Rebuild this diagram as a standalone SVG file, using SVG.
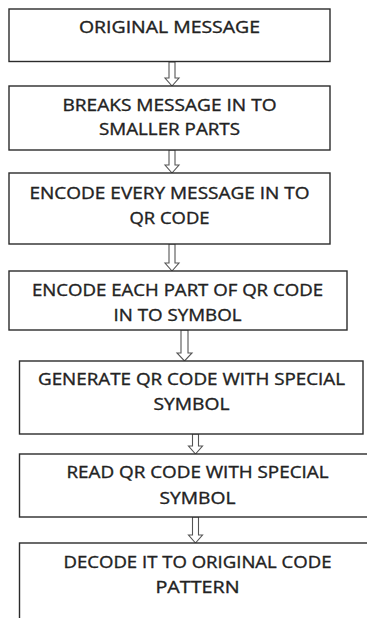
<svg xmlns="http://www.w3.org/2000/svg" width="367" height="618" viewBox="0 0 367 618">
<defs>
<style>
.box{fill:#fff;stroke:#2b2b2b;stroke-width:1.4}
.t{font-family:"Open Sans","Liberation Sans",Arial,sans-serif;font-size:16.5px;fill:#222;stroke:#222;stroke-width:0.35;text-anchor:middle}
.arr{fill:#fff;stroke:#555;stroke-width:1.1;stroke-linejoin:miter}
</style>
</defs>
<rect width="367" height="618" fill="#fff"/>
<g id="connectors">
<path class="arr" d="M169,62 V78 H165 L172,86 L179,78 H175 V62 Z"/>
<path class="arr" d="M169,150 V165 H165 L172,173 L179,165 H175 V150 Z"/>
<path class="arr" d="M169,244 V263 H165 L172,271 L179,263 H175 V244 Z"/>
<path class="arr" d="M181,330 V353 H177 L184.5,361 L192,353 H188 V330 Z"/>
<path class="arr" d="M192.5,434 V446 H188.5 L195.5,454 L202.5,446 H198.5 V434 Z"/>
<path class="arr" d="M192.5,517 V535 H188.5 L195.5,543 L202.5,535 H198.5 V517 Z"/>
</g>
<g id="n1">
<rect class="box" x="9" y="9" width="321" height="52.5"/>
<text class="t" x="169.5" y="32.5" textLength="181" lengthAdjust="spacingAndGlyphs">ORIGINAL MESSAGE</text>
</g>
<g id="n2">
<rect class="box" x="9" y="86" width="321" height="64"/>
<text class="t" x="169.5" y="110.5" textLength="214" lengthAdjust="spacingAndGlyphs">BREAKS MESSAGE IN TO</text>
<text class="t" x="169.5" y="135" textLength="141" lengthAdjust="spacingAndGlyphs">SMALLER PARTS</text>
</g>
<g id="n3">
<rect class="box" x="9" y="173" width="321" height="71"/>
<text class="t" x="169.5" y="199" textLength="280" lengthAdjust="spacingAndGlyphs">ENCODE EVERY MESSAGE IN TO</text>
<text class="t" x="169.5" y="224" textLength="80" lengthAdjust="spacingAndGlyphs">QR CODE</text>
</g>
<g id="n4">
<rect class="box" x="9" y="271" width="338" height="59"/>
<text class="t" x="177.5" y="295.5" textLength="291" lengthAdjust="spacingAndGlyphs">ENCODE EACH PART OF QR CODE</text>
<text class="t" x="177.5" y="320.5" textLength="128" lengthAdjust="spacingAndGlyphs">IN TO SYMBOL</text>
</g>
<g id="n5">
<rect class="box" x="19.5" y="361" width="343.5" height="73"/>
<text class="t" x="191.5" y="385" textLength="307" lengthAdjust="spacingAndGlyphs">GENERATE QR CODE WITH SPECIAL</text>
<text class="t" x="191.5" y="410" textLength="76" lengthAdjust="spacingAndGlyphs">SYMBOL</text>
</g>
<g id="n6">
<rect class="box" x="19.5" y="454" width="360" height="63"/>
<text class="t" x="197.5" y="478" textLength="262" lengthAdjust="spacingAndGlyphs">READ QR CODE WITH SPECIAL</text>
<text class="t" x="197.5" y="504" textLength="76" lengthAdjust="spacingAndGlyphs">SYMBOL</text>
</g>
<g id="n7">
<rect class="box" x="19.5" y="543" width="360" height="90"/>
<text class="t" x="197.5" y="568" textLength="268" lengthAdjust="spacingAndGlyphs">DECODE IT TO ORIGINAL CODE</text>
<text class="t" x="197.5" y="593" textLength="84" lengthAdjust="spacingAndGlyphs">PATTERN</text>
</g>
</svg>
